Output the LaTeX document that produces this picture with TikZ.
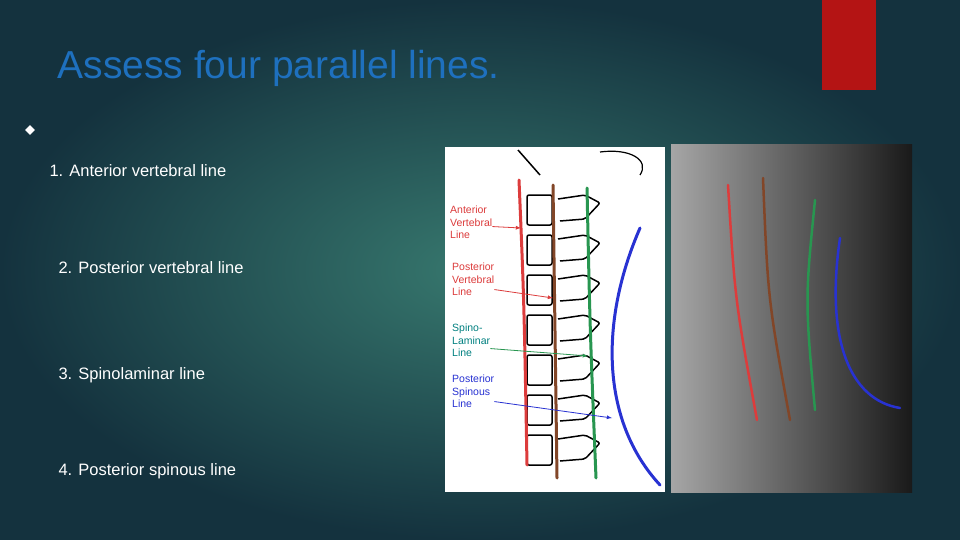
\documentclass[tikz,border=0pt]{standalone}
\usepackage{fontspec}
\setmainfont{Liberation Sans}
\usetikzlibrary{shapes.geometric}
\definecolor{bgA}{RGB}{20,50,62}
\definecolor{bgB}{RGB}{55,120,110}
\definecolor{ttl}{RGB}{30,112,190}
\definecolor{rbox}{RGB}{180,20,20}
\definecolor{lred}{RGB}{220,60,60}
\definecolor{lbrown}{RGB}{130,70,40}
\definecolor{lgreen}{RGB}{40,150,80}
\definecolor{lblue}{RGB}{40,50,210}
\tikzset{item/.style={anchor=west,text=white,font=\fontsize{16.5}{19}\selectfont},
lab/.style={anchor=north west,align=left,font=\fontsize{10.5}{12.5}\selectfont,inner sep=0pt},
sl/.style={line width=3pt,line cap=round},
vb/.style={draw=black,line width=1.5pt,rounded corners=2pt}}
\begin{document}
\begin{tikzpicture}[x=1pt,y=-1pt]
\useasboundingbox (0,0) rectangle (960,540);
\shade[inner color=bgB,outer color=bgA] (0,0) rectangle (960,540);
\fill[rbox] (822,0) rectangle (876,90);
\node[anchor=west,text=ttl,font=\fontsize{39}{43}\selectfont] (title) at (54,68) {Assess four parallel lines.};
\node[diamond,fill=white,minimum size=10pt,inner sep=0pt] (bul) at (30,130) {};
\node[item] (i1) at (46,171) {1. Anterior vertebral line};
\node[item] (i2) at (55,268) {2. Posterior vertebral line};
\node[item] (i3) at (55,375) {3. Spinolaminar line};
\node[item] (i4) at (55,471) {4. Posterior spinous line};
% left drawing
\fill[white] (445,147) rectangle (665,492);
\foreach \y in {195,235,275,315,355,395,435}{
 \draw[vb] (527,\y) rectangle (552,\y+30);
 \draw[vb] (558,\y+4) -- (585,\y) -- (600,\y+8) -- (585,\y+24) -- (560,\y+26);
}
\draw[black,line width=1.5pt] (518,150) -- (540,175);
\draw[black,line width=1.2pt] (600,152) .. controls (630,148) and (650,160) .. (640,175);
\draw[sl,lred] (519,180) .. controls (524,300) .. (527,465) coordinate (rE);
\draw[sl,lbrown] (553,185) -- (557,478);
\draw[sl,lgreen] (587,188) .. controls (590,330) .. (596,478);
\draw[sl,lblue] (640,228) .. controls (600,320) and (600,420) .. (660,485);
\node[lab,text=lred] (la) at (450,206) {Anterior\\Vertebral\\Line};
\node[lab,text=lred] (lb) at (452,263) {Posterior\\Vertebral\\Line};
\node[lab,text=teal] (lc) at (452,324) {Spino-\\Laminar\\Line};
\node[lab,text=lblue] (ld) at (452,375) {Posterior\\Spinous\\Line};
\coordinate (ta) at (521,228);
\coordinate (tb) at (553,298);
\coordinate (tc) at (588,356);
\coordinate (td) at (612,418);
\draw[-latex,lred,thick] (la.east) ++(0,4) -- (ta);
\draw[-latex,lred,thick] (lb.east) ++(0,10) -- (tb);
\draw[-latex,lgreen,thick] (lc.east) ++(0,8) -- (tc);
\draw[-latex,lblue,thick] (ld.east) ++(0,10) -- (td);
% x-ray
\shade[left color=gray!70,middle color=gray!45!black,right color=black!90] (671,145) rectangle (912,492);
\draw[sl,lred,line width=2.5pt] (728,185) .. controls (735,300) .. (757,420);
\draw[sl,lbrown,line width=2.5pt] (763,178) .. controls (768,300) .. (790,420);
\draw[sl,lgreen,line width=2.5pt] (815,200) .. controls (805,300) .. (815,410);
\draw[sl,lblue,line width=2.5pt] (840,238) .. controls (825,340) and (850,400) .. (900,408);
\end{tikzpicture}
\end{document}
